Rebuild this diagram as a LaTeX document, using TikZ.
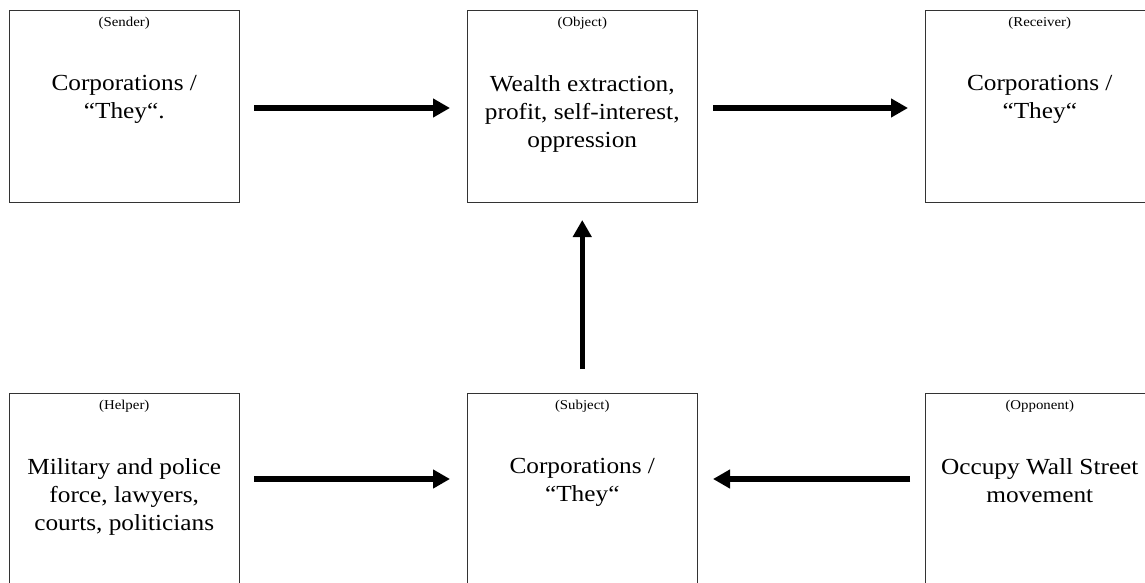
\documentclass[tikz,border=0pt]{standalone}
\usepackage{fontspec}
\setmainfont[FakeStretch=1.1]{Liberation Serif}
\usetikzlibrary{arrows.meta}
\begin{document}
\begin{tikzpicture}[x=1pt,y=-1pt,
  box/.style={draw=black!80,line width=0.8pt,minimum width=229.5pt,minimum height=192pt,inner sep=0pt,outer sep=0pt},
  role/.style={font=\fontsize{13.5}{15}\selectfont,anchor=north,inner sep=0pt},
  maintext/.style={font=\fontsize{23}{28.3}\selectfont,align=center,anchor=north,inner sep=0pt},
  arr/.style={line width=5.5pt,-{Triangle[length=17pt,width=18pt]}}]
\useasboundingbox (0,0) rectangle (1145,583);
\clip (0,0) rectangle (1145,583);
% boxes
\node[box] (sender)   at (124.25,106) {};
\node[box] (object)   at (582.25,106) {};
\node[box] (receiver) at (1039.75,106) {};
\node[box] (helper)   at (124.25,489) {};
\node[box] (subject)  at (582.25,489) {};
\node[box] (opponent) at (1039.75,489) {};
% role labels
\node[role] (lsender)   at ([yshift=-7pt]sender.north)   {(Sender)};
\node[role] (lobject)   at ([yshift=-7pt]object.north)   {(Object)};
\node[role] (lreceiver) at ([yshift=-7pt]receiver.north) {(Receiver)};
\node[role] (lhelper)   at ([yshift=-7pt]helper.north)   {(Helper)};
\node[role] (lsubject)  at ([yshift=-7pt]subject.north)  {(Subject)};
\node[role] (lopponent) at ([yshift=-7pt]opponent.north) {(Opponent)};
% main texts
\node[maintext] (tsender)   at ([yshift=-65pt]sender.north)   {Corporations /\\“They“.};
\node[maintext] (tobject)   at ([yshift=-65pt]object.north)   {Wealth extraction,\\profit, self-interest,\\oppression};
\node[maintext] (treceiver) at ([yshift=-65pt]receiver.north) {Corporations /\\“They“};
\node[maintext] (thelper)   at ([yshift=-65pt]helper.north)   {Military and police\\force, lawyers,\\courts, politicians};
\node[maintext] (tsubject)  at ([yshift=-65pt]subject.north)  {Corporations /\\“They“};
\node[maintext] (topponent) at ([yshift=-65pt]opponent.north) {Occupy Wall Street\\movement};
% arrows
\draw[arr,shorten <=15pt,shorten >=17.5pt] ([yshift=-2pt]sender.east) -- ([yshift=-2pt]object.west);
\draw[arr,shorten <=16pt,shorten >=17pt] ([yshift=-2pt]object.east) -- ([yshift=-2pt]receiver.west);
\draw[arr,shorten <=15pt,shorten >=17.5pt] ([yshift=10pt]helper.east) -- ([yshift=10pt]subject.west);
\draw[arr,shorten <=15pt,shorten >=16pt] ([yshift=10pt]opponent.west) -- ([yshift=10pt]subject.east);
\draw[arr,shorten <=24pt,shorten >=18pt] (subject.north) -- (object.south);
\end{tikzpicture}
\end{document}
